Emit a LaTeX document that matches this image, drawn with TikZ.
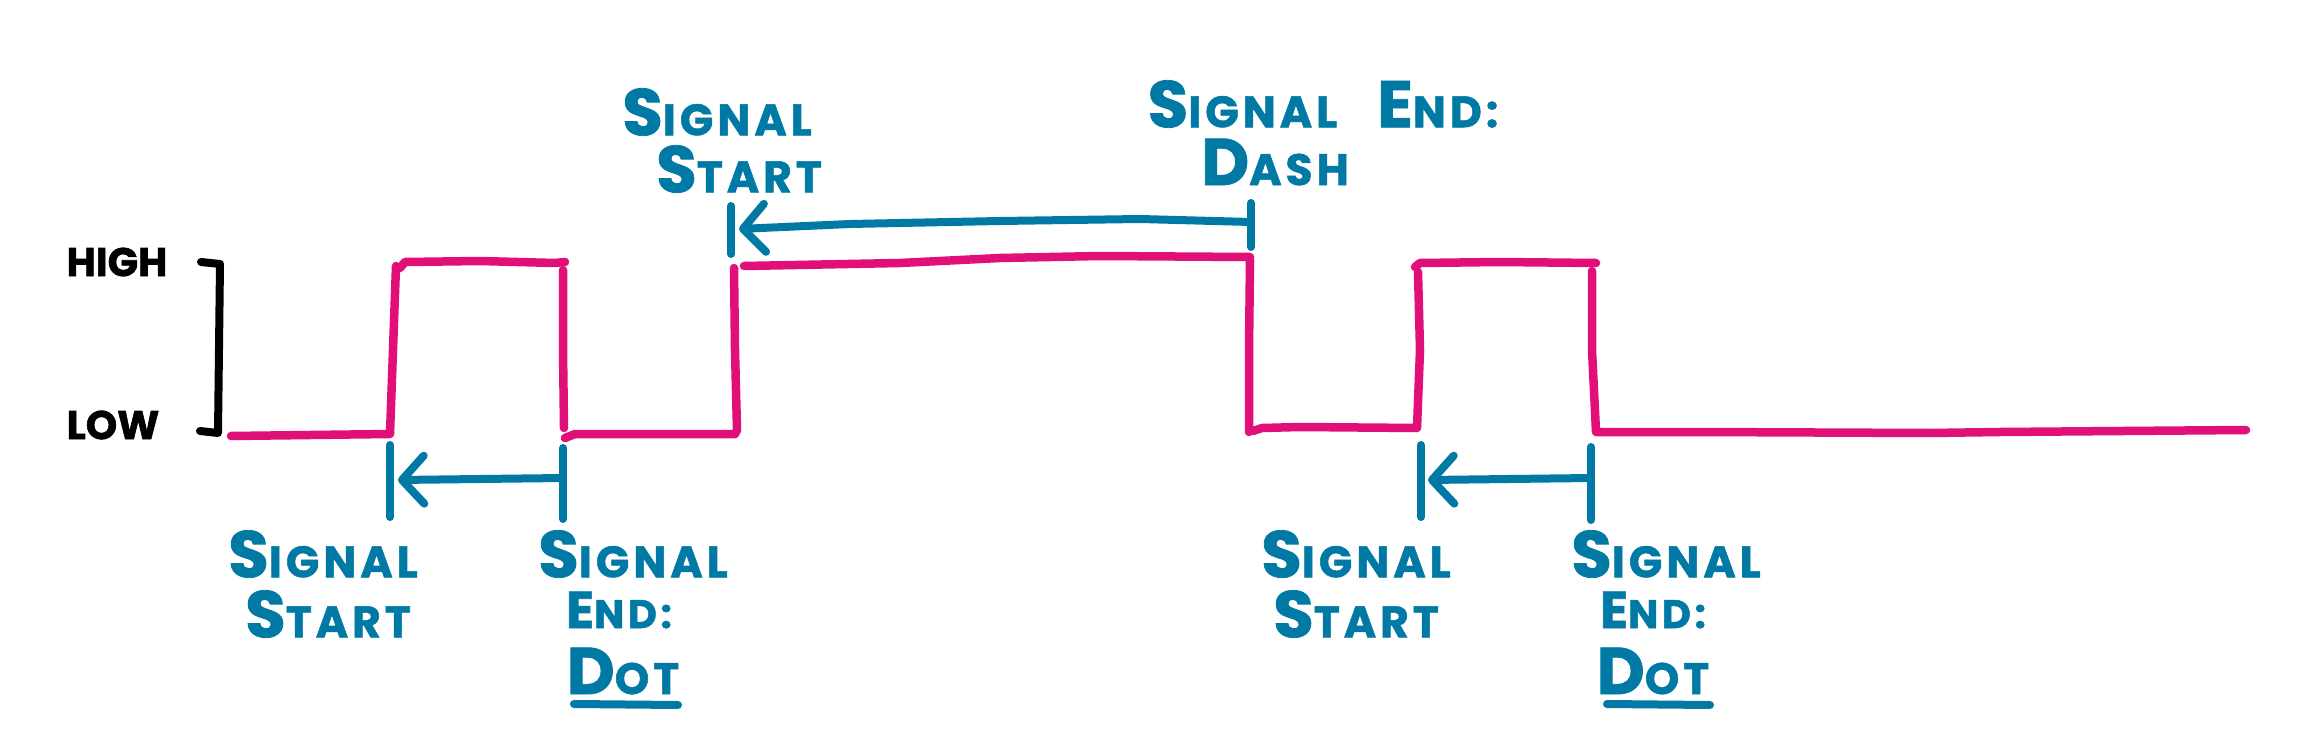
\documentclass[tikz,border=0pt]{standalone}
\usepackage{fontspec}
\setmainfont{Poppins}[BoldFeatures={FakeBold=1.5}]
\newfontfamily\hand{Poppins}[LetterSpace=9,BoldFeatures={FakeBold=1.2}]
\usetikzlibrary{arrows.meta}
\definecolor{sigpink}{RGB}{224,16,120}
\definecolor{labblue}{RGB}{0,122,165}
\newcommand\hsc[2]{{\fontsize{66}{66}\selectfont #1}{\fontsize{44}{44}\selectfont #2}}
\newcommand\hsm[2]{{\fontsize{52}{52}\selectfont #1}{\fontsize{40}{40}\selectfont #2}}
\begin{document}
\begin{tikzpicture}[x=1pt,y=-1pt,
  signal/.style={draw=sigpink,line width=8.5pt,line cap=round,line join=round},
  marker/.style={draw=labblue,line width=8pt,line cap=round},
  span/.style={marker,line join=round,-{Straight Barb[length=22pt,width=48pt,line cap=round,line join=round]}},
  lab/.style={text=labblue,font=\hand\bfseries,inner sep=0pt,anchor=center},
  level/.style={text=black,font=\bfseries\fontsize{40}{40}\selectfont,inner sep=0pt,anchor=center}]
\useasboundingbox (0,0) rectangle (2305,754);

% level labels and bracket
\node[level] (high) at (117,262) {HIGH};
\node[level] (low) at (113,425) {LOW};
\draw[black,line width=8pt,line cap=round,line join=round] (201,262) -- (220,264) -- (218,433) -- (200,431);

% signal
\draw[signal] (231,436) -- (390,434) -- (393,350) -- (396,266);
\draw[signal] (400,268) -- (405,262) -- (480,261) -- (555,263) -- (565,262);
\draw[signal] (563,270) -- (563,350) -- (564,428);
\draw[signal] (565,438) -- (575,434) -- (735,434) -- (737,430) -- (735,350) -- (734,268);
\draw[signal] (744,266) -- (900,263) -- (1000,258) -- (1100,256) -- (1250,257);
\draw[signal] (1250,260) -- (1249,350) -- (1249,432);
\draw[signal] (1253,431) -- (1262,428) -- (1300,427) -- (1417,428) -- (1420,350) -- (1418,272);
\draw[signal] (1415,267) -- (1420,263) -- (1500,262) -- (1596,263);
\draw[signal] (1592,271) -- (1592,350) -- (1596,432) -- (1700,432) -- (1930,433) -- (2000,432) -- (2246,430);

% markers
\coordinate (mA1) at (390,445); \coordinate (mA2) at (390,517);
\coordinate (mB1) at (563,448); \coordinate (mB2) at (563,519);
\coordinate (mC1) at (1421,445); \coordinate (mC2) at (1421,517);
\coordinate (mD1) at (1591,447); \coordinate (mD2) at (1591,520);
\coordinate (mE1) at (731,206); \coordinate (mE2) at (731,254);
\coordinate (mF1) at (1251,203); \coordinate (mF2) at (1251,247);
\foreach \a/\b in {mA1/mA2,mB1/mB2,mC1/mC2,mD1/mD2,mE1/mE2,mF1/mF2}
  \draw[marker] (\a) -- (\b);
\coordinate (aB) at (563,478); \coordinate (aA) at (398,480);
\coordinate (aD) at (1591,478); \coordinate (aC) at (1428,480);
\coordinate (aF) at (1251,222); \coordinate (aE) at (739,229);
\draw[span] (aB) -- (aA);
\draw[span] (aD) -- (aC);
\draw[span] (aF) -- (1140,219) -- (1000,221) -- (850,224) -- (aE);

% labels
\node[lab] (ss1a) at (323,554) {\hsc{S}{IGNAL}};
\node[lab] (ss1b) at (328,614) {\hsc{S}{TART}};
\node[lab] (se1a) at (633,554) {\hsc{S}{IGNAL}};
\node[lab] (se1b) at (619,610) {\hsm{E}{ND:}};
\node[lab] (se1c) at (623,671) {\hsc{D}{OT}};
\draw[marker] (574,704) -- (678,705);

\node[lab] (ts1a) at (717,112) {\hsc{S}{IGNAL}};
\node[lab] (ts1b) at (739,169) {\hsc{S}{TART}};
\node[lab] (te1a) at (1323,104) {\hsc{S}{IGNAL}\hspace{40pt}\hsc{E}{ND:}};
\node[lab] (te1b) at (1275,162) {\hsc{D}{ASH}};

\node[lab] (ss2a) at (1356,554) {\hsc{S}{IGNAL}};
\node[lab] (ss2b) at (1356,614) {\hsc{S}{TART}};
\node[lab] (se2a) at (1666,554) {\hsc{S}{IGNAL}};
\node[lab] (se2b) at (1653,610) {\hsm{E}{ND:}};
\node[lab] (se2c) at (1653,671) {\hsc{D}{OT}};
\draw[marker] (1607,704) -- (1710,705);
\end{tikzpicture}
\end{document}
